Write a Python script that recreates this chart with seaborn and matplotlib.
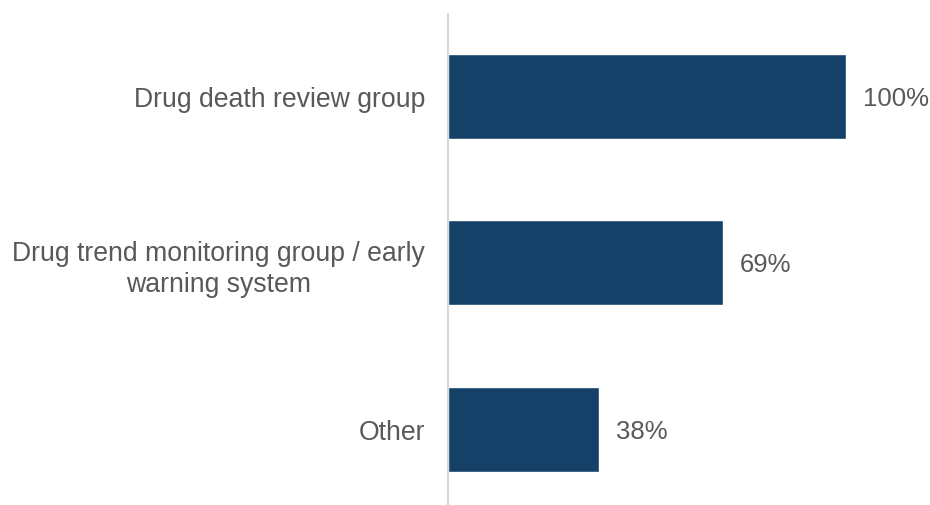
import matplotlib
matplotlib.use("Agg")
import matplotlib.pyplot as plt
import seaborn as sns
import pandas as pd

categories = ["Drug death review group",
              "Drug trend monitoring group / early\nwarning system",
              "Other"]
values = [100, 69, 38]
value_labels = ["100%", "69%", "38%"]

sns.set_theme(style="white")
plt.rcParams["font.family"] = ["Liberation Sans", "DejaVu Sans"]

bar_color = "#154169"
text_color = "#595959"

df = pd.DataFrame({"category": categories, "value": values})

fig = plt.figure(figsize=(9.30, 5.06), dpi=100)
ax = fig.add_axes([448 / 930, 0.0, 482 / 930, 491 / 506])

sns.barplot(data=df, x="value", y="category", orient="h", color=bar_color,
            width=0.51, saturation=1, ax=ax)

ax.set_xlim(0, 100 * 482 / 398)
ax.set_ylim(2.456, -0.495)

for i, (v, lab) in enumerate(zip(values, value_labels)):
    ax.text(v + 4.2, i + 0.01, lab, va="center", ha="left", fontsize=18.5, color=text_color)

ax.set_xlabel("")
ax.set_ylabel("")
ax.set_xticks([])
ax.tick_params(axis="y", length=0, pad=16.5)
for t in ax.get_yticklabels():
    t.set_fontsize(19.2)
    t.set_color(text_color)
    t.set_multialignment("center")
    t.set_linespacing(1.25)

for s in ["top", "right", "bottom"]:
    ax.spines[s].set_visible(False)
ax.spines["left"].set_color("#d9d9d9")
ax.spines["left"].set_linewidth(1.5)

fig.savefig("out.png", dpi=100)
